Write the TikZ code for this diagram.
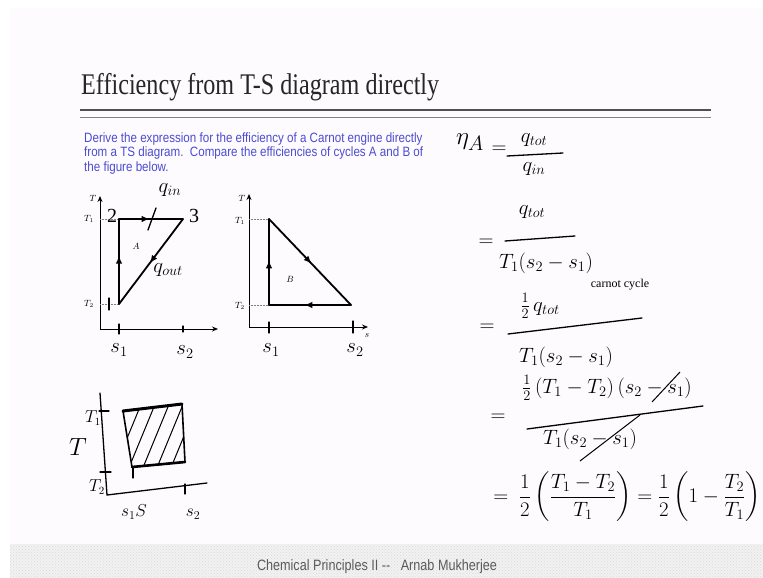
\documentclass[tikz,border=0pt]{standalone}
\usepackage{amsmath}
\usepackage[no-math]{fontspec}
\usepackage{graphicx}
\usetikzlibrary{arrows.meta,patterns,decorations.markings}
\setmainfont{Liberation Serif}
\newfontfamily\slidesans{Liberation Sans}
\definecolor{slidebg}{HTML}{FDFBFD}
\definecolor{qblue}{HTML}{4C4CD0}
\definecolor{rulegray}{HTML}{505050}
\definecolor{footgray}{HTML}{5A5A5A}
\tikzset{
  hand/.style={font=\fontsize{20}{24}\selectfont, inner sep=0pt},
  handbig/.style={font=\fontsize{26}{30}\selectfont, inner sep=0pt},
  small/.style={font=\fontsize{12}{14}\selectfont, inner sep=0pt},
  tiny/.style={font=\fontsize{9}{10}\selectfont, inner sep=0pt},
  hw/.style={line width=1.3pt, line cap=round},
  axisline/.style={line width=0.9pt, -{Stealth[length=6pt,width=5pt]}},
  cyc/.style={line width=1.8pt, line cap=round, line join=round},
  marr/.style={postaction={decorate}, decoration={markings, mark=at position #1 with {\arrow{Latex[length=8pt,width=6.5pt]}}}},
  guide/.style={densely dotted, line width=0.5pt, gray},
}
\begin{document}
\begin{tikzpicture}[x=1pt,y=-1pt]
\useasboundingbox (0,0) rectangle (763,578);
\fill[white] (0,0) rectangle (763,578);
\fill[slidebg] (10,8) rectangle (763,544);
\fill[gray!10] (10,544) rectangle (763,578);
\fill[pattern=crosshatch dots, pattern color=gray!30] (10,544) rectangle (763,578);

% title
\node[anchor=base west, inner sep=0pt, text=black!85] (title) at (81,94)
  {\fontsize{30}{34}\selectfont\resizebox{358pt}{\height}{Efficiency from T-S diagram directly}};
\coordinate (r1a) at (80,110); \coordinate (r1b) at (711,110);
\coordinate (r2a) at (80,117.5); \coordinate (r2b) at (711,117.5);
\draw[line width=2.2pt, rulegray] (r1a) -- (r1b);
\draw[line width=1pt, gray] (r2a) -- (r2b);

% question
\node[anchor=north west, inner sep=0pt, text=qblue] (question) at (84,132)
  {\slidesans\fontsize{13.5}{14.5}\selectfont\resizebox{339pt}{\height}{\begin{tabular}{@{}l@{}}
  Derive the expression for the efficiency of a Carnot engine directly\\
  from a TS diagram.\ \ Compare the efficiencies of cycles A and B of\\
  the figure below.
  \end{tabular}}};

% ---------- figure A ----------
\coordinate (oA) at (100,329);
\coordinate (tA) at (100,196);
\coordinate (xA) at (218,329);
\draw[axisline] (oA) -- (tA);
\draw[axisline] (oA) -- (xA);
\node[tiny] (TA) at (93,198) {$T$};
\node[tiny] (T1A) at (89,219) {$T_1$};
\node[tiny] (T2A) at (89,304) {$T_2$};
\coordinate (a1) at (119,304);
\coordinate (a2) at (119,219);
\coordinate (a3) at (183,219);
\coordinate (g1) at (100,219); \coordinate (g2) at (100,304);
\draw[guide] (g1) -- (a2);
\draw[guide] (g2) -- (a1);
\draw[cyc, marr=0.57] (a1) -- (a2);
\draw[cyc, marr=0.48] (a2) -- (a3);
\draw[cyc, marr=0.52] (a3) -- (a1);
\node[tiny] (labA) at (136,246) {$A$};
% handwriting on A
\node[hand] (h2) at (112,216) {2};
\node[hand] (h3) at (194,216) {3};
\node[hand] (qin) at (170,190) {$q_{in}$};
\node[hand] (qout) at (168,270) {$q_{out}$};
\coordinate (sl1) at (148,230); \coordinate (sl2) at (156,208);
\draw[hw] (sl1) -- (sl2);
\coordinate (tk1) at (109,298); \coordinate (tk2) at (109,310);
\draw[hw] (tk1) -- (tk2);
\coordinate (tk3) at (119,324); \coordinate (tk4) at (119,334);
\draw[hw] (tk3) -- (tk4);
\coordinate (tk5) at (183,326); \coordinate (tk6) at (183,332);
\draw[hw] (tk5) -- (tk6);
\node[hand] (s1A) at (119,350) {$s_1$};
\node[hand] (s2A) at (185,352) {$s_2$};

% ---------- figure B ----------
\coordinate (oB) at (249,327);
\coordinate (tB) at (249,194);
\coordinate (xB) at (368,327);
\draw[axisline] (oB) -- (tB);
\draw[axisline] (oB) -- (xB);
\node[tiny] (TB) at (242,198) {$T$};
\node[tiny] (T1B) at (240,221) {$T_1$};
\node[tiny] (T2B) at (240,306) {$T_2$};
\node[tiny] (sB) at (367,336) {$s$};
\coordinate (b1) at (269,305);
\coordinate (b2) at (269,219);
\coordinate (b3) at (351,305);
\coordinate (g3) at (249,219); \coordinate (g4) at (249,305);
\draw[guide] (g3) -- (b2);
\draw[guide] (g4) -- (b1);
\draw[cyc, marr=0.52] (b1) -- (b2);
\draw[cyc, marr=0.52] (b2) -- (b3);
\draw[cyc, marr=0.57] (b3) -- (b1);
\node[tiny] (labB) at (290,279) {$B$};
\coordinate (tk7) at (269,322); \coordinate (tk8) at (269,333);
\draw[hw] (tk7) -- (tk8);
\coordinate (tk9) at (353,321); \coordinate (tk10) at (353,333);
\draw[hw] (tk9) -- (tk10);
\node[hand] (s1B) at (271,350) {$s_1$};
\node[hand] (s2B) at (355,350) {$s_2$};

% ---------- bottom sketch ----------
\coordinate (c0) at (107,495);
\coordinate (cT) at (100,393);
\coordinate (cX) at (207,483);
\draw[hw] (cT) -- (c0) -- (cX);
\coordinate (k1) at (99,411); \coordinate (k2) at (109,411);
\draw[hw] (k1) -- (k2);
\coordinate (k3) at (100,472); \coordinate (k4) at (111,472);
\draw[hw] (k3) -- (k4);
\coordinate (k5) at (133,467); \coordinate (k6) at (133,478);
\draw[hw] (k5) -- (k6);
\coordinate (k7) at (185,484); \coordinate (k8) at (185,494);
\draw[hw] (k7) -- (k8);
\node[handbig] (Tbig) at (78,447) {$T$};
\node[hand, font=\fontsize{16}{18}\selectfont] (T1c) at (93,418) {$T_1$};
\node[hand, font=\fontsize{16}{18}\selectfont] (T2c) at (97,487) {$T_2$};
\coordinate (q1) at (123,411);
\coordinate (q2) at (182,404);
\coordinate (q3) at (185,462);
\coordinate (q4) at (132,467);
\begin{scope}
\clip (q1) -- (q2) -- (q3) -- (q4) -- cycle;
\foreach \xx in {100,114,128,142,156,170,184} {
  \draw[line width=1pt] (\xx,470) -- (\xx+28,402);
}
\end{scope}
\draw[line width=1.6pt, line join=round] (q1) -- (q2) -- (q3) -- (q4) -- cycle;
\draw[line width=3pt, line cap=round] (q1) -- (q2);
\draw[line width=2.6pt, line cap=round] (q4) -- (q3);
\node[hand, font=\fontsize{17}{18}\selectfont] (s1c) at (134,512) {$s_1S$};
\node[hand, font=\fontsize{17}{18}\selectfont] (s2c) at (193,514) {$s_2$};

% ---------- right-hand derivation ----------
\node[hand, font=\fontsize{30}{32}\selectfont] (eta) at (470,142) {$\eta_A$};
\node[hand] (e1) at (499,150) {$=$};
\node[hand] (n1) at (534,140) {$q_{tot}$};
\coordinate (l1a) at (507,156); \coordinate (l1b) at (563,153);
\draw[hw] (l1a) -- (l1b);
\node[hand] (d1) at (534,169) {$q_{in}$};

\node[hand] (e2) at (486,243) {$=$};
\node[hand] (n2) at (532,212) {$q_{tot}$};
\coordinate (l2a) at (505,241); \coordinate (l2b) at (575,236);
\draw[hw] (l2a) -- (l2b);
\node[hand] (d2) at (546,263) {$T_1(s_2-s_1)$};

\node[hand] (e3) at (487,328) {$=$};
\node[hand] (n3) at (540,306) {$\tfrac{1}{2}\,q_{tot}$};
\node[small] (cc) at (620,285) {carnot cycle};
\coordinate (l3a) at (508,334); \coordinate (l3b) at (642,318);
\draw[hw] (l3a) -- (l3b);
\node[hand] (d3) at (566,357) {$T_1(s_2-s_1)$};

\node[hand] (e4) at (498,418) {$=$};
\node[hand] (n4) at (607,388) {$\tfrac{1}{2}\,(T_1-T_2)\,(s_2-s_1)$};
\coordinate (l4a) at (527,429); \coordinate (l4b) at (703,406);
\draw[hw] (l4a) -- (l4b);
\node[hand] (d4) at (590,439) {$T_1(s_2-s_1)$};
\coordinate (x1a) at (652,402); \coordinate (x1b) at (680,372);
\draw[line width=1pt] (x1a) -- (x1b);
\coordinate (x2a) at (580,461); \coordinate (x2b) at (640,415);
\draw[line width=1pt] (x2a) -- (x2b);

\node[hand] (e5) at (627,497)
  {$=\ \dfrac{1}{2}\left(\dfrac{T_1-T_2}{T_1}\right) = \dfrac{1}{2}\left(1-\dfrac{T_2}{T_1}\right)$};

% footer
\node[anchor=base, inner sep=0pt, text=footgray] (foot) at (377,570)
  {\slidesans\fontsize{15}{17}\selectfont\resizebox{240pt}{\height}{Chemical Principles II --\ \ \ Arnab Mukherjee}};
\end{tikzpicture}
\end{document}
